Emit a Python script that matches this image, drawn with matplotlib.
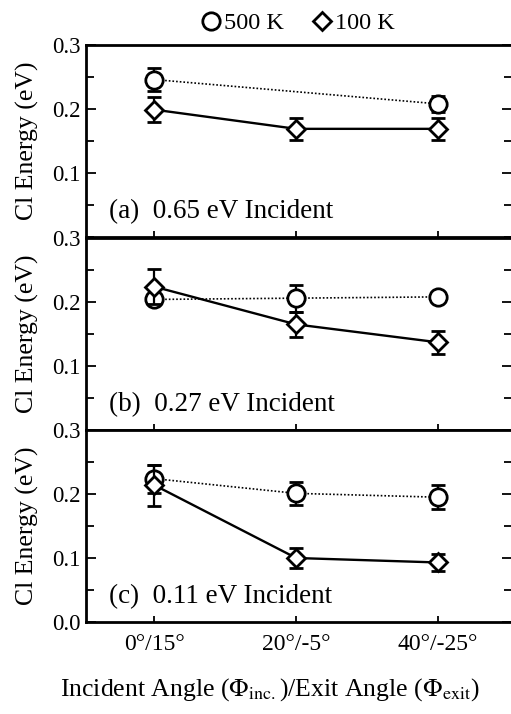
"""Cl energy vs incident/exit angle, three incident energies stacked, 500 K vs 100 K surface."""
import numpy as np
import matplotlib
matplotlib.use("Agg")
import matplotlib.pyplot as plt
from matplotlib.lines import Line2D
from matplotlib.ticker import MultipleLocator

plt.rcParams.update({"font.family": ["Liberation Serif", "DejaVu Serif"],
                     "mathtext.fontset": "stix", "font.size": 16})

angles = ["0°/15°", "20°/-5°", "40°/-25°"]
panels = ["(a)  0.65 eV Incident", "(b)  0.27 eV Incident", "(c)  0.11 eV Incident"]

# 500 K (circles, dotted); panel (a) has no middle point
hot_x = [[0, 2], [0, 1, 2], [0, 1, 2]]
hot_y = [[0.246, 0.208], [0.204, 0.206, 0.208], [0.224, 0.201, 0.195]]
hot_err = [[0.018, 0.013], [0.0, 0.021, 0.0], [0.022, 0.018, 0.019]]

# 100 K (diamonds, solid)
cold_x = [[0, 1, 2], [0, 1, 2], [0, 1, 2]]
cold_y = [[0.199, 0.169, 0.169], [0.224, 0.165, 0.137], [0.214, 0.100, 0.093]]
cold_err = [[0.02, 0.017, 0.017], [0.027, 0.02, 0.018], [0.032, 0.016, 0.013]]

W, H = 511, 714
fig = plt.figure(figsize=(W / 100, H / 100), dpi=100)
left, right = 86, 512
tops = [45, 238, 430]
ph = 192

axes = []
for i in range(3):
    ax = fig.add_axes([left / W, 1 - (tops[i] + ph) / H, (right - left) / W, ph / H])
    axes.append(ax)
    ax.errorbar(hot_x[i], hot_y[i], yerr=hot_err[i], fmt="o", ls=(0, (1, 1.2)), lw=1.2,
                color="black", mfc="white", mec="black", ms=12.5, mew=2.0, ecolor="black",
                elinewidth=1.6, capsize=5, capthick=2.0, zorder=3)
    ax.errorbar(cold_x[i], cold_y[i], yerr=cold_err[i], fmt="D", ls="-", lw=1.7, color="black",
                mfc="white", mec="black", ms=9, mew=2.0, ecolor="black", elinewidth=1.6,
                capsize=5, capthick=2.0, zorder=4)
    ax.set_xlim(-0.48, 2.52)
    ax.set_ylim(0, 0.3)
    ax.set_xticks(range(len(angles)))
    ax.set_xticklabels(angles if i == 2 else [], fontsize=17)
    if i == 2:
        ax.set_yticks([0.0, 0.1, 0.2, 0.3])
        ax.set_yticklabels(["0.0", "0.1", "0.2", "0.3"])
    else:
        ax.set_yticks([0.1, 0.2, 0.3])
        ax.set_yticklabels(["0.1", "0.2", "0.3"])
    ax.yaxis.set_minor_locator(MultipleLocator(0.05))
    ax.tick_params(axis="x", direction="in", length=4, width=1.3, pad=9, top=False)
    ax.tick_params(axis="y", which="major", direction="in", length=7, width=1.3, pad=4,
                   right=True, labelsize=16.5)
    ax.tick_params(axis="y", which="minor", direction="in", length=6, width=1.3, right=True)
    for s in ax.spines.values():
        s.set_linewidth(2.0)
    ax.set_ylabel("Cl Energy (eV)", fontsize=18.5, labelpad=9)
    ax.text(0.055, 0.13, panels[i], transform=ax.transAxes, fontsize=19.5, va="center",
            ha="left")

axes[2].set_xlabel(r"Incident Angle ($\Phi_{\rm inc.}$)/Exit Angle ($\Phi_{\rm exit}$)",
                   fontsize=18.5)
axes[2].xaxis.set_label_coords((270 - left) / (right - left), -(690 - 622) / ph)
axes[2].xaxis.label.set_va("center")

handles = [Line2D([], [], marker="o", ls="none", mfc="white", mec="black", ms=12.5, mew=2.0),
           Line2D([], [], marker="D", ls="none", mfc="white", mec="black", ms=9, mew=2.0)]
fig.legend(handles, ["500 K", "100 K"], loc="center", bbox_to_anchor=(296 / W, 1 - 23 / H),
           ncol=2, frameon=False, handletextpad=0.0, columnspacing=1.0, handlelength=1.1,
           fontsize=17.5)

fig.savefig("out.png", dpi=100)
